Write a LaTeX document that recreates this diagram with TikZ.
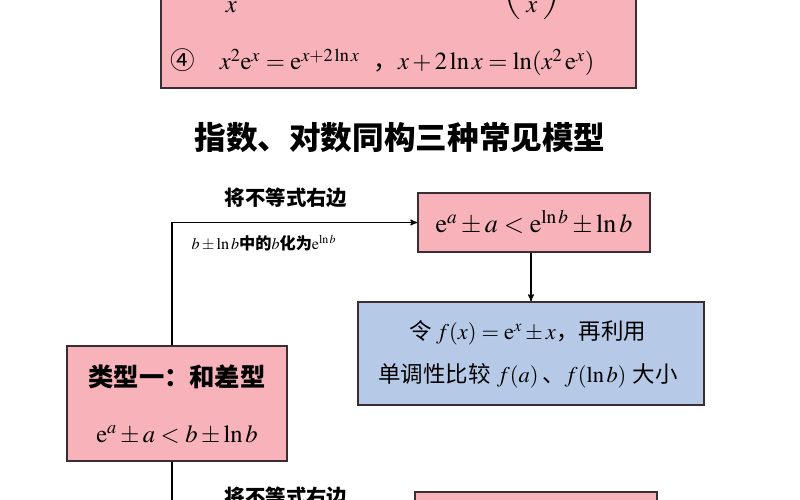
\documentclass[tikz,border=0pt]{standalone}
\usepackage{amsmath}
\usepackage{mathptmx}
\usepackage{fontspec}
\setmainfont{Liberation Serif}
\newfontfamily\cjk{Noto Sans CJK SC}
\usetikzlibrary{arrows}

\definecolor{boxpink}{RGB}{247,178,186}
\definecolor{boxblue}{RGB}{182,202,232}
\definecolor{boxline}{RGB}{60,45,50}

\begin{document}
\begin{tikzpicture}[->,>=stealth',thick,
		pink box/.style={rectangle,draw=boxline,line width=1.1pt,fill=boxpink,inner sep=0pt},
		blue box/.style={rectangle,draw=boxline,line width=1.1pt,fill=boxblue,inner sep=0pt},
		small label/.style={font=\cjk\bfseries\fontsize{14.5}{16}\selectfont,inner sep=0pt},
		box text/.style={font=\cjk\fontsize{16}{18}\selectfont,inner sep=0pt}]
		\useasboundingbox (0,0) rectangle (20,-12.5);
		\clip (0,0) rectangle (20,-12.5);
		\fill[white] (0,0) rectangle (20,-12.5);
		
		% top box, cut off by the page
		\node[pink box,minimum width=11.875cm,minimum height=3.2cm] (top) at (9.9625,-0.6) {};
		\node[box text,anchor=base west,font=\cjk\fontsize{17.5}{20}\selectfont] (three) at (4.25,0.1)
		{③\quad$\dfrac{\mathrm{e}^x}{x}=\mathrm{e}^{x-\ln x}$\quad，$x-\ln x=\ln\left(\dfrac{\mathrm{e}^x}{x}\right)$};
		\node[box text,anchor=base west,font=\cjk\fontsize{17.5}{20}\selectfont] (four) at (4.25,-1.75)
		{④\quad$x^2\mathrm{e}^x=\mathrm{e}^{x+2\ln x}$\;\;，$x+2\ln x=\ln(x^2\,\mathrm{e}^x)$};
		
		% title
		\node[font=\cjk\bfseries\fontsize{22.5}{26}\selectfont] (title) at (10,-3.45) {指数、对数同构三种常见模型};
		
		% boxes
		\node[pink box,minimum width=5.8cm,minimum height=1.475cm,font=\fontsize{18.5}{21}\selectfont] (A) at (13.35,-5.5625)
		{$\mathrm{e}^a\pm a<\mathrm{e}^{\ln b}\pm\ln b$};
		\node[blue box,minimum width=8.65cm,minimum height=2.575cm] (blue) at (13.275,-8.8375) {};
		\node[box text] (f1) at (13.2,-8.32) {令\,$f(x)=\mathrm{e}^x\pm x$，再利用};
		\node[box text] (f2) at (13.2,-9.4) {单调性比较\;$f(a)$\,、$f(\ln b)$\;大小};
		\node[pink box,minimum width=5.5cm,minimum height=2.875cm] (type) at (4.425,-10.0875) {};
		\node[box text,font=\cjk\bfseries\fontsize{18}{20}\selectfont] (t1) at (4.425,-9.425) {类型一：和差型};
		\node[box text,font=\fontsize{17.5}{20}\selectfont] (t2) at (4.425,-10.875) {$\mathrm{e}^a\pm a<b\pm\ln b$};
		\node[pink box,minimum width=6.05cm,minimum height=1.475cm] (B) at (13.4,-13.0375) {};
		
		% labels on the arrows
		\node[small label] (l1) at (7.15,-4.95) {将不等式右边};
		\node[small label,font=\cjk\bfseries\fontsize{11.5}{13}\selectfont] (l2) at (6.6,-6.075) {$b\pm\ln b$中的$b$化为$\mathrm{e}^{\ln b}$};
		\node[small label] (l3) at (7.15,-12.42) {将不等式右边};
		
		% connectors
		\draw ([xshift=-0.125cm]type.north) |- (A.west);
		\draw (A.south -| blue.north) -- (blue.north);
		\draw ([xshift=-0.125cm]type.south) |- (B.west);
		
\end{tikzpicture}
\end{document}
